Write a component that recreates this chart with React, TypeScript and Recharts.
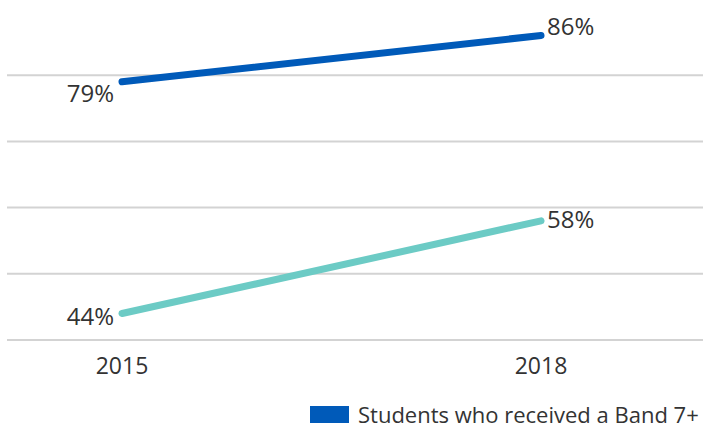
import { CartesianGrid, Legend, Line, LineChart, XAxis, YAxis } from "recharts";

const years = ["2015", "2018"];
const band7Values = [79, 86];
const otherValues = [44, 58];
const yTicks = [40, 50, 60, 70, 80];

const chartData = years.map((year, i) => ({
  year,
  band7: band7Values[i],
  other: otherValues[i],
}));

const FONT = "'Open Sans', sans-serif";
const TEXT = "#333333";

function makeLabel(leftDy: number, rightDy: number) {
  return function PointLabel(props: any) {
    const { x, y, value, index } = props;
    const first = index === 0;
    return (
      <text
        x={first ? x - 8 : x + 6}
        y={first ? y + leftDy : y + rightDy}
        textAnchor={first ? "end" : "start"}
        dominantBaseline="middle"
        fill={TEXT}
        fontSize={24}
        fontFamily={FONT}
      >
        {value}%
      </text>
    );
  };
}

function LegendContent(props: any) {
  const items = (props.payload || []).filter((p: any) => p.type !== "none");
  return (
    <div style={{ display: "flex", alignItems: "center", fontFamily: FONT }}>
      {items.map((item: any) => (
        <div key={item.value} style={{ display: "flex", alignItems: "center" }}>
          <span style={{ width: 39, height: 17, background: item.color, marginRight: 9 }} />
          <span style={{ fontSize: 22, lineHeight: "24px", color: TEXT, whiteSpace: "nowrap" }}>{item.value}</span>
        </div>
      ))}
    </div>
  );
}

export default function App() {
  return (
    <div style={{ position: "absolute", left: 0, top: 0, width: 713, height: 425, background: "#fff", overflow: "hidden" }}>
      <LineChart width={713} height={425} data={chartData} margin={{ top: 9, right: 10, left: 7, bottom: 31 }}>
        <CartesianGrid vertical={false} stroke="#d3d3d3" strokeWidth={2} syncWithTicks />
        <XAxis
          dataKey="year"
          axisLine={false}
          tickLine={false}
          padding={{ left: 115, right: 162 }}
          tick={{ fill: TEXT, fontSize: 23, fontFamily: FONT }}
          dy={10}
        />
        <YAxis hide domain={[40, 90]} ticks={yTicks} />
        <Legend
          content={LegendContent}
          wrapperStyle={{ position: "absolute", left: 310, top: 402, width: 420 }}
        />
        <Line
          dataKey="other"
          name="Other"
          stroke="#6ccbc5"
          strokeWidth={7}
          strokeLinecap="round"
          dot={false}
          legendType="none"
          label={makeLabel(5, 1)}
          isAnimationActive={false}
        />
        <Line
          dataKey="band7"
          name="Students who received a Band 7+"
          stroke="#005ab9"
          strokeWidth={7}
          strokeLinecap="round"
          dot={false}
          label={makeLabel(14, -7)}
          isAnimationActive={false}
        />
      </LineChart>
    </div>
  );
}
